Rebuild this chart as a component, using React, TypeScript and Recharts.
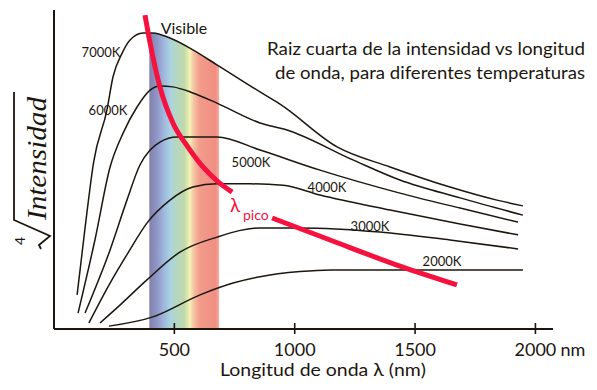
import React from 'react';
import { ComposedChart, Line, Area, XAxis, YAxis } from 'recharts';

// fourth root of intensity (arbitrary units, 0-100)
const wl7000 = [96, 129, 165, 220, 245, 283, 316, 370, 411, 482, 577, 677, 856, 939, 1176, 1396, 1645, 1840, 1948];
const v7000 = [10.7, 31.7, 52.5, 68.7, 79.0, 86.5, 90.6, 92.8, 92.8, 91.2, 87.5, 82.8, 74.3, 70.5, 57.1, 50.8, 44.5, 40.4, 38.6];

const wl6000 = [100, 170, 233, 287, 345, 399, 440, 494, 577, 677, 856, 968, 1242, 1437, 1687, 1948];
const v6000 = [5.0, 27.9, 50.8, 61.4, 69.6, 74.9, 76.2, 75.9, 74.0, 70.8, 64.6, 62.4, 53.0, 46.7, 41.1, 35.7];

const wl5000 = [129, 233, 303, 357, 399, 440, 511, 677, 856, 1105, 1437, 1687, 1928];
const v5000 = [5.0, 24.8, 40.4, 51.4, 56.1, 58.6, 60.2, 60.2, 56.1, 49.8, 42.6, 37.9, 33.5];

const wl4000 = [145, 233, 307, 386, 482, 577, 677, 814, 951, 1105, 1396, 1687, 1928];
const v4000 = [1.9, 14.4, 23.8, 33.2, 40.4, 44.5, 45.5, 45.5, 45.1, 42.0, 37.3, 32.9, 29.5];

const wl3000 = [191, 274, 386, 523, 677, 856, 1022, 1354, 1645, 1928];
const v3000 = [1.9, 7.5, 15.4, 24.1, 28.8, 31.7, 31.7, 30.4, 27.9, 25.1];

const wl2000 = [228, 411, 607, 744, 856, 1022, 1150, 1437, 1948];
const v2000 = [0.9, 3.8, 10.7, 14.4, 16.4, 18.0, 18.5, 18.5, 18.5];

// peak wavelength line (gap where the label sits)
const wlPeak = [378, 399, 440, 494, 553, 619, 682, 740, 820, 906, 1147, 1437, 1674];
const vPeak = [98.4, 89.7, 75.9, 64.6, 57.4, 50.8, 46.1, 42.9, null, 34.8, 27.9, 19.7, 13.8];

// visible band, under the 7000K curve
const wlBand = [396, 411, 482, 577, 686];
const vBand = [92.8, 92.8, 91.2, 87.5, 82.4];

const xTicks = [500, 1000, 1500, 2000];

const toRows = (xs: number[], ys: (number | null)[]) => xs.map((x, i) => ({ x, v: ys[i] }));

const curves = [
  { name: '7000K', data: toRows(wl7000, v7000) },
  { name: '6000K', data: toRows(wl6000, v6000) },
  { name: '5000K', data: toRows(wl5000, v5000) },
  { name: '4000K', data: toRows(wl4000, v4000) },
  { name: '3000K', data: toRows(wl3000, v3000) },
  { name: '2000K', data: toRows(wl2000, v2000) },
];

const ink = '#1c160e';
const red = '#f5123f';
const sans = 'Lato, "Open Sans", sans-serif';

function XTick({ x, y, payload }: any) {
  return (
    <g>
      <line x1={x} x2={x} y1={y - 6} y2={y + 5} stroke={ink} strokeWidth={1.6} />
      <text x={x} y={y + 27} textAnchor="middle" fontSize={18} fill={ink} fontFamily={sans}>
        {payload.value}
      </text>
      {payload.value === 2000 && (
        <text x={x + 25} y={y + 27} textAnchor="start" fontSize={18} fill={ink} fontFamily={sans}>
          nm
        </text>
      )}
    </g>
  );
}

export default function App() {
  return (
    <div style={{ position: 'absolute', left: 0, top: 0, width: 597, height: 390, background: '#fff' }}>
      <ComposedChart width={597} height={390} margin={{ top: 10, right: 44, left: 0, bottom: 0 }}>
        <defs>
          <linearGradient id="spectrum" x1="0" y1="0" x2="1" y2="0">
            <stop offset="0" stopColor="#8280aa" />
            <stop offset="0.1" stopColor="#8e94c4" />
            <stop offset="0.2" stopColor="#9eb4dc" />
            <stop offset="0.3" stopColor="#aad3e2" />
            <stop offset="0.38" stopColor="#b4d7c4" />
            <stop offset="0.5" stopColor="#bed9aa" />
            <stop offset="0.58" stopColor="#f6f2b4" />
            <stop offset="0.64" stopColor="#f4c2a2" />
            <stop offset="0.72" stopColor="#f29c8c" />
            <stop offset="0.95" stopColor="#f08e82" />
            <stop offset="1" stopColor="#f2b0a4" />
          </linearGradient>
        </defs>
        <XAxis
          dataKey="x"
          type="number"
          domain={[0, 2073]}
          ticks={xTicks}
          height={61}
          tickLine={false}
          tickSize={0}
          tickMargin={0}
          tick={<XTick />}
          axisLine={{ stroke: ink, strokeWidth: 2 }}
          allowDataOverflow
        />
        <YAxis
          type="number"
          domain={[0, 100]}
          width={54}
          tick={false}
          tickLine={false}
          axisLine={{ stroke: ink, strokeWidth: 2 }}
          allowDataOverflow
        />
        <Area
          data={toRows(wlBand, vBand)}
          dataKey="v"
          type="monotone"
          fill="url(#spectrum)"
          fillOpacity={1}
          stroke="none"
          isAnimationActive={false}
        />
        {curves.map((c) => (
          <Line
            key={c.name}
            data={c.data}
            dataKey="v"
            type="monotone"
            stroke={ink}
            strokeWidth={1.5}
            dot={false}
            activeDot={false}
            isAnimationActive={false}
          />
        ))}
        <Line
          data={toRows(wlPeak, vPeak)}
          dataKey="v"
          type="monotone"
          stroke={red}
          strokeWidth={5}
          dot={false}
          activeDot={false}
          connectNulls={false}
          isAnimationActive={false}
        />
      </ComposedChart>

      <svg
        width={597}
        height={390}
        style={{ position: 'absolute', left: 0, top: 0, pointerEvents: 'none' }}
      >
        <g fontFamily={sans} fill={ink}>
          <text x={585} y={55} fontSize={18} textAnchor="end" textLength={318} lengthAdjust="spacingAndGlyphs">
            Raiz cuarta de la intensidad vs longitud
          </text>
          <text x={585} y={79} fontSize={18} textAnchor="end" textLength={310} lengthAdjust="spacingAndGlyphs">
            de onda, para diferentes temperaturas
          </text>
          <text x={184} y={34} fontSize={16} textAnchor="middle">Visible</text>
          <text x={101} y={57} fontSize={13} textAnchor="middle">7000K</text>
          <text x={108} y={115} fontSize={13} textAnchor="middle">6000K</text>
          <text x={251} y={167} fontSize={13} textAnchor="middle">5000K</text>
          <text x={327} y={192} fontSize={13} textAnchor="middle">4000K</text>
          <text x={370} y={231} fontSize={13} textAnchor="middle">3000K</text>
          <text x={442} y={266} fontSize={13} textAnchor="middle">2000K</text>
          <text x={220} y={376} fontSize={18} textLength={206} lengthAdjust="spacingAndGlyphs">
            Longitud de onda λ  (nm)
          </text>
        </g>
        <g fontFamily={sans} fill={red}>
          <text x={230} y={212} fontSize={19}>λ</text>
          <text x={243} y={220} fontSize={14}>pico</text>
        </g>
        {/* fourth-root label on the y axis */}
        <g transform="translate(35,165) rotate(-90)" fill={ink} stroke="none">
          <text
            x={-55}
            y={11}
            fontSize={27}
            fontStyle="italic"
            fontFamily='"Liberation Serif", "DejaVu Serif", serif'
            textLength={123}
            lengthAdjust="spacingAndGlyphs"
          >
            Intensidad
          </text>
          <path
            d="M 73 -21 L -55 -21 L -71 15 L -80 4 L -84 6"
            fill="none"
            stroke={ink}
            strokeWidth={1.8}
            strokeLinejoin="miter"
          />
          <text x={-80} y={-10} fontSize={14} fontFamily={sans}>4</text>
        </g>
      </svg>
    </div>
  );
}
